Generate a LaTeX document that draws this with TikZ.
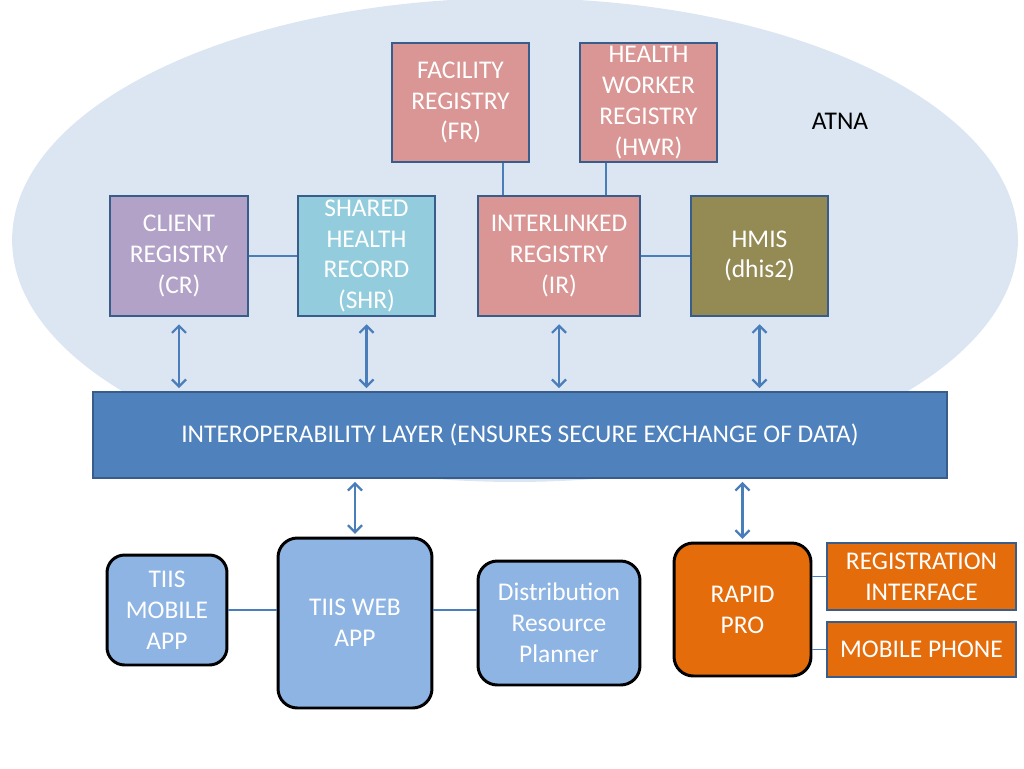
\documentclass[tikz,border=0pt]{standalone}
\usepackage{fontspec}
\setmainfont{Carlito}
\usetikzlibrary{arrows.meta}
\definecolor{atnafill}{HTML}{DCE6F2}
\definecolor{edgeblue}{HTML}{385D8A}
\definecolor{linkblue}{HTML}{4A7EBB}
\definecolor{regred}{HTML}{D99694}
\definecolor{crpurple}{HTML}{B3A2C7}
\definecolor{shrcyan}{HTML}{93CDDD}
\definecolor{hmisolive}{HTML}{948A54}
\definecolor{layerblue}{HTML}{4F81BD}
\definecolor{appblue}{HTML}{8EB4E3}
\definecolor{rporange}{HTML}{E46C0A}

\begin{document}
\begin{tikzpicture}
[x=0.02cm,y=-0.02cm,
 every node/.style={align=center,text=white,inner sep=0pt,
   font=\fontsize{14.5}{17.6}\selectfont},
 regbox/.style={draw=edgeblue,line width=1.4pt,minimum width=2.74cm,minimum height=2.4cm},
 appbox/.style={draw=black,line width=1.7pt,rounded corners=11pt,fill=appblue},
 link/.style={draw=linkblue,line width=0.8pt},
 flow/.style={draw=linkblue,line width=1.3pt,
   {Straight Barb[length=4pt,width=8pt]}-{Straight Barb[length=4pt,width=8pt]}}]
  \useasboundingbox (0,0) rectangle (1024,768);
  \fill[atnafill] (515,240) ellipse [x radius=10.06cm, y radius=4.84cm];
  \node[text=black] (atna) at (840,121) {ATNA};

  \node[regbox,fill=regred,minimum height=2.38cm] (fr) at (460.5,102.5) {FACILITY\\REGISTRY\\(FR)};
  \node[regbox,fill=regred,minimum height=2.38cm] (hwr) at (648.5,102.5) {HEALTH\\WORKER\\REGISTRY\\(HWR)};
  \node[regbox,fill=crpurple,minimum width=2.76cm] (cr) at (179,256) {CLIENT\\REGISTRY\\(CR)};
  \node[regbox,fill=shrcyan] (shr) at (366.5,256) {SHARED\\HEALTH\\RECORD\\(SHR)};
  \node[regbox,fill=regred,minimum width=3.24cm] (ir) at (559,256) {INTERLINKED\\REGISTRY\\(IR)};
  \node[regbox,fill=hmisolive] (hmis) at (759.5,256) {HMIS\\(dhis2)};

  \node[draw=edgeblue,line width=1.4pt,fill=layerblue,minimum width=17.08cm,minimum height=1.72cm] (layer) at (520,435)
    {INTEROPERABILITY LAYER (ENSURES SECURE EXCHANGE OF DATA)};

  \node[appbox,minimum width=2.4cm,minimum height=2.2cm,rounded corners=10pt] (mobile) at (167,610) {TIIS\\MOBILE\\APP};
  \node[appbox,minimum width=3.08cm,minimum height=3.4cm] (web) at (355,623) {TIIS WEB\\APP};
  \node[appbox,minimum width=3.24cm,minimum height=2.48cm] (drp) at (559,623) {Distribution\\Resource\\Planner};
  \node[appbox,fill=rporange,minimum width=2.74cm,minimum height=2.66cm] (rapid) at (742.5,609.5) {RAPID\\PRO};
  \node[regbox,fill=rporange,minimum width=3.78cm,minimum height=1.34cm] (reg) at (921.5,576.5) {REGISTRATION\\INTERFACE};
  \node[regbox,fill=rporange,minimum width=3.78cm,minimum height=1.1cm] (phone) at (921.5,649.5) {MOBILE PHONE};

  \coordinate (frx) at (503,0);
  \coordinate (hwrx) at (606,0);
  \draw[link] (cr) -- (shr);
  \draw[link] (ir) -- (hmis);
  \draw[link] (fr.south -| frx) -- (ir.north -| frx);
  \draw[link] (hwr.south -| hwrx) -- (ir.north -| hwrx);
  \draw[link] (mobile.east) -- (mobile.east -| web.west);
  \draw[link] (mobile.east -| web.east) -- (mobile.east -| drp.west);
  \draw[link] (reg.west) -- (reg.west -| rapid.east);
  \draw[link] (phone.west) -- (phone.west -| rapid.east);

  \foreach \n in {cr,shr,ir,hmis}
    \draw[flow,shorten <=4pt,shorten >=1.5pt] (\n.south) -- (\n.south |- layer.north);
  \foreach \n in {web,rapid}
    \draw[flow,shorten <=1.5pt,shorten >=1.5pt] (layer.south -| \n) -- (\n.north);
\end{tikzpicture}
\end{document}
